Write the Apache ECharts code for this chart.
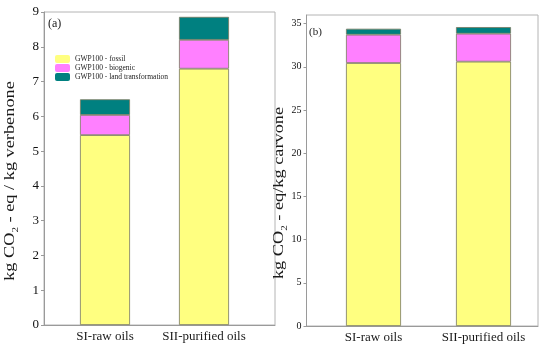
<!DOCTYPE html>
<html>
<head>
<meta charset="utf-8">
<script src="https://cdn.jsdelivr.net/npm/echarts@6/dist/echarts.min.js"></script>
<style>html,body{margin:0;padding:0;background:#fff;}#c{width:550px;height:348px;}</style>
</head>
<body>
<div id="c"></div>
<script>
// ---- data ----
var categories = ['SI-raw oils', 'SII-purified oils'];
var seriesNames = ['GWP100 - fossil', 'GWP100 - biogenic', 'GWP100 - land transformation'];
var verbenoneFossil = [5.46, 7.37];
var verbenoneBiogenic = [0.58, 0.83];
var verbenoneLand = [0.45, 0.66];
var carvoneFossil = [30.44, 30.60];
var carvoneBiogenic = [3.28, 3.24];
var carvoneLand = [0.69, 0.76];
var leftTicks = {min: 0, max: 9, interval: 1};
var rightTicks = {min: 0, max: 36, interval: 5};
var leftTitle = ['kg CO', '2', ' - eq / kg verbenone'];
var rightTitle = ['kg CO', '2', ' - eq/kg carvone'];

// ---- styling ----
var FONT = '"Liberation Serif","Times New Roman",serif';
var colors = ['#FFFF80', '#FF80FF', '#008080'];
var axisGrey = '#9a9a9a';

var chart = echarts.init(document.getElementById('c'), null, {renderer: 'canvas'});

function frameX(grid) {
  return {type: 'category', gridIndex: grid, data: categories,
    axisLine: {show: true, lineStyle: {color: axisGrey}}, axisTick: {show: false},
    axisLabel: {show: false}, splitLine: {show: false}};
}
function barX(grid) {
  return {type: 'category', gridIndex: grid, data: categories,
    axisLine: {show: false}, axisTick: {show: false},
    axisLabel: {show: true, interval: 0, hideOverlap: false, margin: 5, fontFamily: FONT, fontSize: 13, color: '#1a1a1a'}};
}
function mkSeries(vals, idx, xi, yi, bw) {
  return {type: 'bar', name: seriesNames[idx], data: vals, stack: 's' + xi,
    xAxisIndex: xi, yAxisIndex: yi, barWidth: bw,
    itemStyle: {color: colors[idx], borderColor: '#7a7a60', borderWidth: 0.8},
    emphasis: {disabled: true}};
}
function titleText(parts, cx, cy) {
  return {type: 'text', x: cx, y: cy, rotation: Math.PI / 2, scaleX: 1.22, scaleY: 1, silent: true,
    style: {
      text: '{a|' + parts[0] + '}{s|' + parts[1] + '}{a|' + parts[2] + '}',
      align: 'center', verticalAlign: 'middle',
      rich: {
        a: {fontFamily: FONT, fontSize: 15, fill: '#1a1a1a', color: '#1a1a1a', verticalAlign: 'top', lineHeight: 20},
        s: {fontFamily: FONT, fontSize: 9, fill: '#1a1a1a', color: '#1a1a1a', verticalAlign: 'top', lineHeight: 20, padding: [8, 0, 0, 0]}
      }
    }};
}

var option = {
  animation: false,
  backgroundColor: '#fff',
  grid: [
    {left: 44, top: 12, width: 231, height: 313, show: true, borderColor: '#b4b4b4', borderWidth: 1, containLabel: false},
    {left: 55.5, top: 12, width: 198, height: 313, containLabel: false},
    {left: 306.5, top: 15, width: 231.5, height: 311, show: true, borderColor: '#b4b4b4', borderWidth: 1, containLabel: false},
    {left: 318.5, top: 15, width: 220, height: 311, containLabel: false}
  ],
  xAxis: [frameX(0), barX(1), frameX(2), barX(3)],
  yAxis: [
    {type: 'value', gridIndex: 0, min: leftTicks.min, max: leftTicks.max, interval: leftTicks.interval,
      axisLine: {show: true, lineStyle: {color: axisGrey}},
      axisTick: {show: true, length: 3, lineStyle: {color: axisGrey}},
      axisLabel: {fontFamily: FONT, fontSize: 13, color: '#111', margin: 5},
      splitLine: {show: false}},
    {type: 'value', gridIndex: 1, min: leftTicks.min, max: leftTicks.max, show: false, splitLine: {show: false}},
    {type: 'value', gridIndex: 2, min: rightTicks.min, max: rightTicks.max, interval: rightTicks.interval,
      axisLine: {show: true, lineStyle: {color: axisGrey}},
      axisTick: {show: true, length: 3, lineStyle: {color: axisGrey}},
      axisLabel: {fontFamily: FONT, fontSize: 10, color: '#111', margin: 5, showMaxLabel: false},
      splitLine: {show: false}},
    {type: 'value', gridIndex: 3, min: rightTicks.min, max: rightTicks.max, show: false, splitLine: {show: false}}
  ],
  legend: {
    orient: 'vertical', left: 55, top: 55, padding: 0,
    itemWidth: 15, itemHeight: 8, itemGap: 1,
    data: seriesNames,
    itemStyle: {borderWidth: 0},
    textStyle: {fontFamily: FONT, fontSize: 7.5, lineHeight: 8, color: '#222'},
    selectedMode: false
  },
  graphic: [
    {type: 'text', left: 48, top: 18, style: {text: '(a)', font: '12px ' + FONT, fill: '#1a1a1a'}},
    {type: 'text', left: 309, top: 27, style: {text: '(b)', font: '11px ' + FONT, fill: '#1a1a1a'}},
    titleText(leftTitle, 13, 181),
    titleText(rightTitle, 282, 193)
  ],
  series: [
    mkSeries(verbenoneFossil, 0, 1, 1, 50),
    mkSeries(verbenoneBiogenic, 1, 1, 1, 50),
    mkSeries(verbenoneLand, 2, 1, 1, 50),
    mkSeries(carvoneFossil, 0, 3, 3, 55),
    mkSeries(carvoneBiogenic, 1, 3, 3, 55),
    mkSeries(carvoneLand, 2, 3, 3, 55)
  ]
};
chart.setOption(option);
</script>
</body>
</html>
